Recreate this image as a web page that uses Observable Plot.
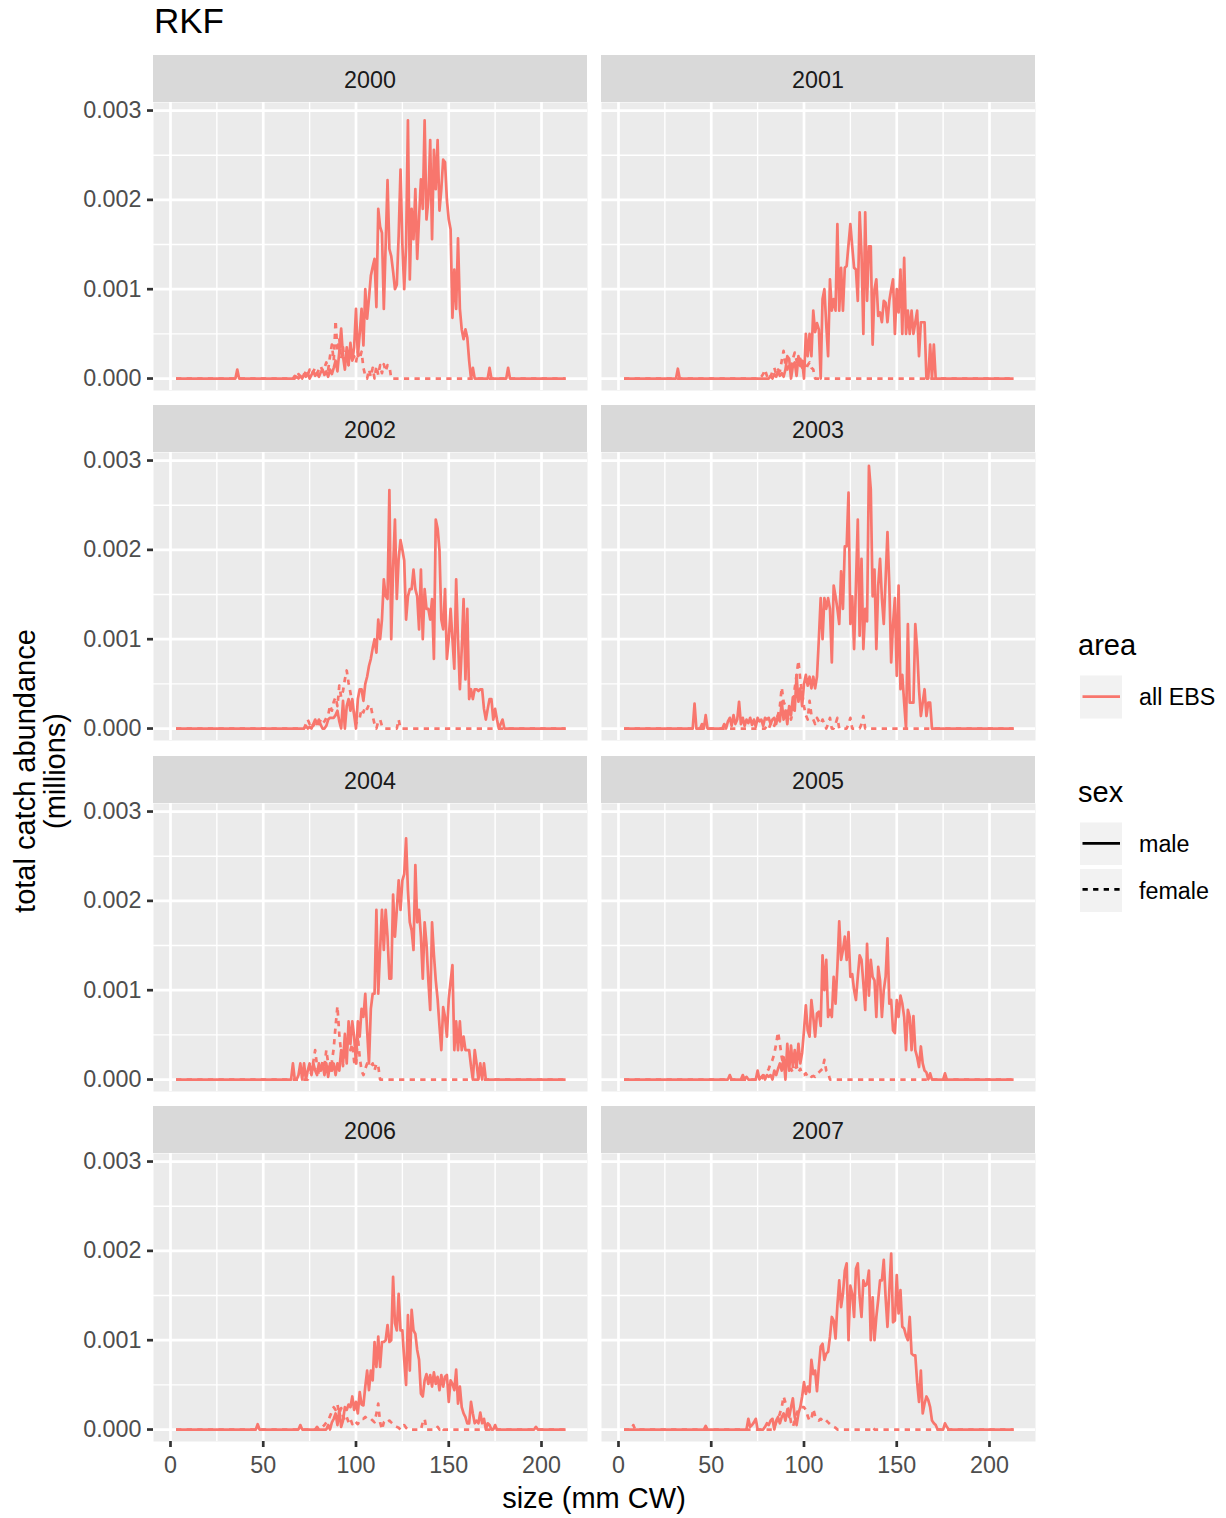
<!DOCTYPE html>
<html><head><meta charset="utf-8">
<script src="https://cdn.jsdelivr.net/npm/d3@7"></script>
<script src="https://cdn.jsdelivr.net/npm/@observablehq/plot@0.6"></script>
<style>
body{margin:0;background:#fff;}
#chart{position:relative;width:1226px;height:1518px;font-family:"Liberation Sans",Arial,Helvetica,sans-serif;background:#fff;overflow:hidden;color:#000}
.abs{position:absolute;white-space:nowrap}
.strip{position:absolute;background:#D9D9D9;color:#1A1A1A;font-size:23.3px;text-align:center;line-height:50px}
</style></head><body><div id="chart"></div>
<script>
// ---------- data ----------
const sizeBins = d3.range(3, 214);              // carapace width bins, mm
const years = [2000, 2001, 2002, 2003, 2004, 2005, 2006, 2007];
const xTicks = [0, 50, 100, 150, 200];
const xMinor = [25, 75, 125, 175];
const yTicks = [0, 0.001, 0.002, 0.003];
const yMinor = [0.0005, 0.0015, 0.0025];
const areaLabels = ["all EBS"];
const sexLabels = ["male", "female"];

// each series: runs of [first size, [abundance (millions) for consecutive 1-mm bins]]; other bins are 0
const male2000 = [[36,[10e-5]],[68,[2e-5,0,3e-5,0,5e-5,2e-5,6e-5,0,4e-5,8e-5,3e-5,6e-5,2e-5,7e-5,10e-5,4e-5,8e-5,2e-5,10e-5,5e-5,12e-5,20e-5,8e-5,30e-5,56e-5,25e-5,10e-5,35e-5,15e-5,40e-5,20e-5,35e-5,78e-5,25e-5,50e-5,78e-5,37e-5,100e-5,67e-5,90e-5,115e-5,125e-5,134e-5,80e-5,190e-5,170e-5,163e-5,78e-5,150e-5,222e-5,145e-5,137e-5,120e-5,100e-5,105e-5,160e-5,234e-5,150e-5,100e-5,148e-5,289e-5,111e-5,190e-5,156e-5,212e-5,134e-5,180e-5,223e-5,190e-5,289e-5,178e-5,200e-5,267e-5,156e-5,256e-5,212e-5,267e-5,188e-5,212e-5,245e-5,242e-5,200e-5,178e-5,167e-5,68e-5,122e-5,78e-5,157e-5,78e-5,55e-5,44e-5,55e-5,46e-5,20e-5,0,12e-5]],[172,[12e-5]],[182,[12e-5]]];
const female2000 = [[67,[3e-5,0,5e-5,2e-5,6e-5,3e-5,8e-5,4e-5,10e-5,5e-5,8e-5,12e-5,6e-5,10e-5,14e-5,8e-5,12e-5,18e-5,10e-5,25e-5,38e-5,20e-5,65e-5,30e-5,45e-5,22e-5,35e-5,18e-5,28e-5,15e-5,32e-5,20e-5,25e-5,18e-5,30e-5,22e-5,30e-5,12e-5,3e-5,0,10e-5,2e-5,12e-5,0,14e-5,4e-5,15e-5,6e-5,16e-5,8e-5,15e-5,14e-5,0]]];

const male2001 = [[32,[11e-5]],[82,[3e-5,0,5e-5,2e-5,8e-5,3e-5,6e-5,2e-5,10e-5,25e-5,22e-5,0,14e-5,18e-5,3e-5,25e-5,14e-5,20e-5,0,50e-5,25e-5,50e-5,25e-5,76e-5,52e-5,62e-5,55e-5,0,89e-5,100e-5,60e-5,25e-5,111e-5,76e-5,89e-5,76e-5,173e-5,76e-5,124e-5,76e-5,124e-5,126e-5,150e-5,173e-5,148e-5,124e-5,122e-5,87e-5,186e-5,140e-5,50e-5,186e-5,87e-5,148e-5,148e-5,38e-5,100e-5,111e-5,70e-5,74e-5,63e-5,87e-5,85e-5,63e-5,87e-5,100e-5,111e-5,50e-5,100e-5,74e-5,122e-5,50e-5,135e-5,50e-5,76e-5,50e-5,76e-5,50e-5,63e-5,76e-5,25e-5,63e-5,63e-5,63e-5,0,0,38e-5,0,38e-5,0]]];
const female2001 = [[77,[2e-5,5e-5,10e-5,3e-5,6e-5,2e-5,8e-5,12e-5,5e-5,10e-5,8e-5,20e-5,31e-5,15e-5,10e-5,18e-5,8e-5,22e-5,29e-5,20e-5,15e-5,22e-5,12e-5,20e-5,10e-5,15e-5,18e-5,12e-5,10e-5]]];

const male2002 = [[73,[3e-5,0,2e-5,0,5e-5,10e-5,5e-5,10e-5,4e-5,0,0,3e-5,10e-5,12e-5,12e-5,12e-5,15e-5,20e-5,8e-5,0,31e-5,0,25e-5,33e-5,20e-5,33e-5,15e-5,0,33e-5,44e-5,44e-5,31e-5,50e-5,58e-5,70e-5,78e-5,90e-5,100e-5,85e-5,122e-5,100e-5,122e-5,167e-5,148e-5,145e-5,267e-5,100e-5,180e-5,234e-5,145e-5,190e-5,211e-5,200e-5,188e-5,122e-5,148e-5,156e-5,156e-5,178e-5,156e-5,148e-5,111e-5,178e-5,100e-5,156e-5,134e-5,134e-5,122e-5,145e-5,78e-5,234e-5,224e-5,200e-5,122e-5,111e-5,156e-5,78e-5,100e-5,134e-5,100e-5,67e-5,167e-5,100e-5,44e-5,89e-5,145e-5,55e-5,134e-5,33e-5,44e-5,33e-5,44e-5,44e-5,42e-5,44e-5,44e-5,22e-5,10e-5,22e-5,33e-5,33e-5,10e-5,22e-5,10e-5,0,5e-5,10e-5]]];
const female2002 = [[73,[5e-5,10e-5,5e-5,8e-5,3e-5,6e-5,8e-5,5e-5,10e-5,6e-5,8e-5,12e-5,15e-5,26e-5,20e-5,30e-5,35e-5,25e-5,48e-5,35e-5,42e-5,55e-5,65e-5,51e-5,40e-5,28e-5,18e-5,5e-5,10e-5,12e-5,22e-5,18e-5,25e-5,22e-5,27e-5,25e-5,14e-5,5e-5,0,8e-5,10e-5,3e-5]],[123,[10e-5]]];

const male2003 = [[41,[28e-5]],[45,[5e-5,0,15e-5]],[57,[5e-5,0,8e-5,12e-5,3e-5,15e-5,5e-5,10e-5,30e-5,5e-5,12e-5,3e-5,10e-5,6e-5,12e-5,4e-5,10e-5,2e-5,12e-5,8e-5,10e-5,3e-5,12e-5,10e-5,12e-5,5e-5,10e-5,12e-5,5e-5,15e-5,8e-5,30e-5,10e-5,20e-5,5e-5,25e-5,15e-5,35e-5,20e-5,60e-5,30e-5,45e-5,25e-5,50e-5,60e-5,48e-5,58e-5,45e-5,58e-5,45e-5,58e-5,100e-5,146e-5,100e-5,146e-5,134e-5,146e-5,134e-5,74e-5,160e-5,148e-5,134e-5,117e-5,176e-5,134e-5,204e-5,204e-5,264e-5,117e-5,148e-5,89e-5,160e-5,234e-5,104e-5,190e-5,89e-5,134e-5,120e-5,294e-5,268e-5,148e-5,178e-5,89e-5,160e-5,190e-5,146e-5,117e-5,167e-5,220e-5,160e-5,74e-5,117e-5,146e-5,59e-5,160e-5,44e-5,60e-5,29e-5,0,117e-5,29e-5,29e-5,29e-5,117e-5,89e-5,44e-5,14e-5,29e-5,44e-5,14e-5,29e-5,29e-5,0]]];
const female2003 = [[80,[3e-5,0,5e-5,8e-5,3e-5,10e-5,15e-5,25e-5,46e-5,30e-5,25e-5,18e-5,25e-5,10e-5,20e-5,45e-5,60e-5,76e-5,55e-5,40e-5,25e-5,15e-5,10e-5,31e-5,15e-5,10e-5,5e-5,12e-5,8e-5,5e-5,10e-5,5e-5,0,5e-5,12e-5,0,0,5e-5,12e-5]],[124,[5e-5,12e-5]],[131,[5e-5,14e-5]]];

const male2004 = [[66,[18e-5,0,0,5e-5,18e-5,0,18e-5,0,10e-5,18e-5,5e-5,18e-5,10e-5,5e-5,18e-5,10e-5,18e-5,5e-5,18e-5,3e-5,18e-5,10e-5,18e-5,5e-5,18e-5,10e-5,33e-5,18e-5,51e-5,18e-5,65e-5,40e-5,65e-5,48e-5,18e-5,65e-5,48e-5,79e-5,70e-5,96e-5,55e-5,18e-5,79e-5,96e-5,96e-5,190e-5,96e-5,145e-5,190e-5,145e-5,190e-5,160e-5,113e-5,113e-5,207e-5,160e-5,190e-5,223e-5,190e-5,223e-5,230e-5,270e-5,212e-5,176e-5,167e-5,145e-5,240e-5,176e-5,190e-5,160e-5,113e-5,176e-5,152e-5,111e-5,78e-5,176e-5,140e-5,111e-5,90e-5,60e-5,33e-5,81e-5,70e-5,48e-5,90e-5,110e-5,128e-5,33e-5,65e-5,33e-5,65e-5,33e-5,48e-5,33e-5,33e-5,33e-5,15e-5,0,33e-5,18e-5,0,18e-5,0,18e-5,0]]];
const female2004 = [[75,[3e-5,8e-5,20e-5,33e-5,15e-5,8e-5,12e-5,20e-5,15e-5,33e-5,18e-5,10e-5,20e-5,35e-5,60e-5,82e-5,50e-5,30e-5,15e-5,45e-5,35e-5,48e-5,33e-5,40e-5,20e-5,15e-5,48e-5,25e-5,10e-5,5e-5,12e-5,18e-5,18e-5,15e-5,18e-5,10e-5,18e-5,15e-5]]];

const male2005 = [[60,[5e-5]],[67,[5e-5,0,3e-5]],[75,[10e-5,0,3e-5,5e-5,0,5e-5,3e-5,5e-5,0,10e-5,5e-5,12e-5,18e-5,10e-5,25e-5,0,40e-5,10e-5,38e-5,14e-5,33e-5,14e-5,40e-5,18e-5,30e-5,55e-5,83e-5,55e-5,48e-5,89e-5,70e-5,48e-5,74e-5,76e-5,60e-5,139e-5,100e-5,134e-5,70e-5,78e-5,70e-5,115e-5,85e-5,126e-5,177e-5,134e-5,145e-5,160e-5,134e-5,165e-5,115e-5,118e-5,100e-5,89e-5,115e-5,139e-5,134e-5,108e-5,78e-5,152e-5,94e-5,134e-5,115e-5,111e-5,70e-5,126e-5,111e-5,70e-5,100e-5,115e-5,158e-5,85e-5,89e-5,55e-5,52e-5,89e-5,70e-5,94e-5,85e-5,70e-5,33e-5,78e-5,70e-5,33e-5,71e-5,33e-5,25e-5,14e-5,37e-5,18e-5,10e-5,8e-5,0,7e-5]],[176,[7e-5]]];
const female2005 = [[78,[3e-5,5e-5,8e-5,12e-5,18e-5,22e-5,29e-5,40e-5,53e-5,40e-5,25e-5,14e-5,10e-5,8e-5,10e-5,12e-5,8e-5,12e-5,15e-5,8e-5,12e-5,6e-5,5e-5,7e-5,3e-5,5e-5,3e-5,4e-5,3e-5,6e-5,8e-5,10e-5,12e-5,22e-5,10e-5,8e-5]]];

const male2006 = [[47,[6e-5]],[70,[5e-5]],[79,[3e-5]],[85,[5e-5,0,8e-5,12e-5,18e-5,5e-5,22e-5,3e-5,10e-5,25e-5,22e-5,28e-5,25e-5,37e-5,22e-5,31e-5,18e-5,42e-5,28e-5,27e-5,48e-5,66e-5,44e-5,66e-5,55e-5,98e-5,70e-5,104e-5,70e-5,98e-5,98e-5,100e-5,117e-5,98e-5,100e-5,171e-5,119e-5,111e-5,152e-5,111e-5,111e-5,78e-5,50e-5,128e-5,66e-5,134e-5,111e-5,107e-5,89e-5,78e-5,40e-5,37e-5,55e-5,62e-5,51e-5,61e-5,48e-5,64e-5,51e-5,59e-5,44e-5,61e-5,48e-5,59e-5,61e-5,31e-5,55e-5,51e-5,44e-5,67e-5,29e-5,48e-5,25e-5,18e-5,14e-5,7e-5,7e-5,31e-5,18e-5,7e-5,10e-5,7e-5,19e-5,7e-5,12e-5,0,7e-5,5e-5,0,0,5e-5]],[197,[3e-5]]];
const female2006 = [[82,[3e-5,5e-5,8e-5,10e-5,15e-5,20e-5,25e-5,22e-5,28e-5,18e-5,24e-5,15e-5,10e-5,14e-5,8e-5,12e-5,6e-5,10e-5,8e-5,6e-5,10e-5,12e-5,12e-5,14e-5,12e-5,11e-5,12e-5,10e-5,8e-5,18e-5,29e-5,8e-5,0,8e-5,10e-5,8e-5,10e-5,8e-5,6e-5,4e-5,3e-5,2e-5,0,3e-5,5e-5,2e-5]],[136,[8e-5,12e-5]],[144,[3e-5]],[146,[3e-5]]];

const male2007 = [[47,[4e-5]],[70,[12e-5,3e-5,5e-5,8e-5,12e-5,0,0,0,0,3e-5,7e-5,5e-5,10e-5,12e-5,0,10e-5,14e-5,7e-5,14e-5,18e-5,10e-5,22e-5,14e-5,25e-5,35e-5,14e-5,5e-5,18e-5,25e-5,37e-5,53e-5,40e-5,48e-5,42e-5,78e-5,62e-5,66e-5,43e-5,70e-5,93e-5,96e-5,78e-5,85e-5,87e-5,104e-5,126e-5,122e-5,102e-5,139e-5,167e-5,137e-5,152e-5,178e-5,186e-5,100e-5,161e-5,152e-5,126e-5,180e-5,186e-5,148e-5,126e-5,167e-5,161e-5,163e-5,178e-5,100e-5,148e-5,100e-5,126e-5,145e-5,167e-5,167e-5,190e-5,148e-5,115e-5,156e-5,197e-5,120e-5,122e-5,173e-5,130e-5,156e-5,115e-5,113e-5,105e-5,100e-5,126e-5,85e-5,83e-5,83e-5,53e-5,31e-5,66e-5,18e-5,29e-5,37e-5,33e-5,25e-5,10e-5,7e-5,5e-5]],[176,[7e-5,3e-5]]];
const female2007 = [[8,[5e-5]],[84,[3e-5,8e-5,12e-5,18e-5,25e-5,37e-5,30e-5,25e-5,20e-5,8e-5,3e-5,10e-5,18e-5,22e-5,25e-5,25e-5,25e-5,22e-5,15e-5,10e-5,12e-5,23e-5,15e-5,12e-5,10e-5,12e-5,10e-5,12e-5,10e-5,8e-5,6e-5,5e-5,3e-5,2e-5]],[137,[3e-5]]];

const maleSeries = [male2000, male2001, male2002, male2003, male2004, male2005, male2006, male2007];
const femaleSeries = [female2000, female2001, female2002, female2003, female2004, female2005, female2006, female2007];

function expand(runs) {
  const m = new Map();
  for (const [start, vals] of runs) vals.forEach((v, i) => m.set(start + i, v));
  return sizeBins.map(s => ({size: s, abundance: m.has(s) ? m.get(s) : 0}));
}

// ---------- layout / style ----------
const COLOR = "#F8766D";
const FONT = '"Liberation Sans", Arial, Helvetica, sans-serif';
const PANEL_W = 434, PANEL_H = 288, STRIP_H = 47;
const COL_X = [153, 601];
const ROW_TOP = [55, 405.33, 755.67, 1106];
const ML = 80, MB = 45;
const chart = document.getElementById("chart");

function addDiv(html, css, cls = "abs") {
  const d = document.createElement("div");
  d.className = cls;
  d.innerHTML = html;
  Object.assign(d.style, css);
  chart.appendChild(d);
  return d;
}

years.forEach((year, i) => {
  const col = i % 2, row = Math.floor(i / 2);
  const left = COL_X[col], top = ROW_TOP[row];
  const showY = col === 0, showX = row === 3;
  addDiv(String(year), {left: left + "px", top: top + "px", width: PANEL_W + "px", height: STRIP_H + "px"}, "strip");

  const ml = showY ? ML : 0, mb = showX ? MB : 0;
  const male = expand(maleSeries[i]);
  const female = expand(femaleSeries[i]);
  const svg = Plot.plot({
    width: PANEL_W + ml, height: PANEL_H + mb,
    marginLeft: ml, marginRight: 0, marginTop: 0, marginBottom: mb,
    style: {fontFamily: FONT, fontSize: "23.3px", background: "transparent", overflow: "visible"},
    x: {domain: [-9.16, 224.8], axis: null},
    y: {domain: [-0.000134, 0.00309], axis: null},
    marks: [
      Plot.frame({fill: "#EBEBEB", stroke: "none"}),
      Plot.gridX(xMinor, {stroke: "white", strokeOpacity: 1, strokeWidth: 1.4}),
      Plot.gridY(yMinor, {stroke: "white", strokeOpacity: 1, strokeWidth: 1.4}),
      Plot.gridX(xTicks, {stroke: "white", strokeOpacity: 1, strokeWidth: 2.7}),
      Plot.gridY(yTicks, {stroke: "white", strokeOpacity: 1, strokeWidth: 2.7}),
      Plot.line(female, {x: "size", y: "abundance", stroke: COLOR, strokeWidth: 2.7, strokeDasharray: "5.3,5.3", strokeLinecap: "butt", strokeLinejoin: "round"}),
      Plot.line(male, {x: "size", y: "abundance", stroke: COLOR, strokeWidth: 2.7, strokeLinecap: "butt", strokeLinejoin: "round"}),
      showY ? Plot.axisY(yTicks, {anchor: "left", tickFormat: d3.format(".3f"), tickSize: 6, tickPadding: 6, strokeWidth: 2.7, stroke: "#333333", fill: "#4D4D4D", fontSize: 23.3, label: null}) : null,
      showX ? Plot.axisX(xTicks, {anchor: "bottom", tickFormat: d3.format("d"), tickSize: 6, tickPadding: 9, strokeWidth: 2.7, stroke: "#333333", fill: "#4D4D4D", fontSize: 23.3, label: null}) : null
    ]
  });
  svg.style.position = "absolute";
  svg.style.left = (left - ml) + "px";
  svg.style.top = (top + STRIP_H) + "px";
  svg.style.maxWidth = "none";
  chart.appendChild(svg);
});

// title
addDiv("RKF", {left: "154px", top: "3px", fontSize: "35px", lineHeight: "35px"});
// axis titles
addDiv("total catch abundance<br>(millions)", {left: (40 - 250) + "px", top: (771 - 30) + "px", width: "500px", height: "60px", fontSize: "29px", lineHeight: "30px", textAlign: "center", transform: "rotate(-90deg)", transformOrigin: "50% 50%", whiteSpace: "nowrap"});
addDiv("size (mm CW)", {left: "294px", top: "1484px", width: "600px", fontSize: "29px", lineHeight: "29px", textAlign: "center"});

// legend
addDiv("area", {left: "1078px", top: "631px", fontSize: "29px", lineHeight: "29px"});
addDiv(areaLabels[0], {left: "1139px", top: "686px", fontSize: "23.3px", lineHeight: "23.3px"});
addDiv("sex", {left: "1078px", top: "778px", fontSize: "29px", lineHeight: "29px"});
addDiv(sexLabels[0], {left: "1139px", top: "833px", fontSize: "23.3px", lineHeight: "23.3px"});
addDiv(sexLabels[1], {left: "1139px", top: "879.5px", fontSize: "23.3px", lineHeight: "23.3px"});
const ns = "http://www.w3.org/2000/svg";
const lg = document.createElementNS(ns, "svg");
lg.setAttribute("width", 60); lg.setAttribute("height", 260);
Object.assign(lg.style, {position: "absolute", left: "1070px", top: "660px"});
lg.innerHTML = `
  <rect x="10" y="15.5" width="42" height="43" fill="#F2F2F2"/>
  <line x1="12.5" x2="50" y1="36.7" y2="36.7" stroke="${COLOR}" stroke-width="2.7"/>
  <rect x="10" y="162.5" width="42" height="42.5" fill="#F2F2F2"/>
  <line x1="12.5" x2="50" y1="183.3" y2="183.3" stroke="#000" stroke-width="2.7"/>
  <rect x="10" y="209" width="42" height="43" fill="#F2F2F2"/>
  <line x1="12.5" x2="50" y1="229.3" y2="229.3" stroke="#000" stroke-width="2.7" stroke-dasharray="5.3,5.3"/>`;
chart.appendChild(lg);
</script></body></html>
